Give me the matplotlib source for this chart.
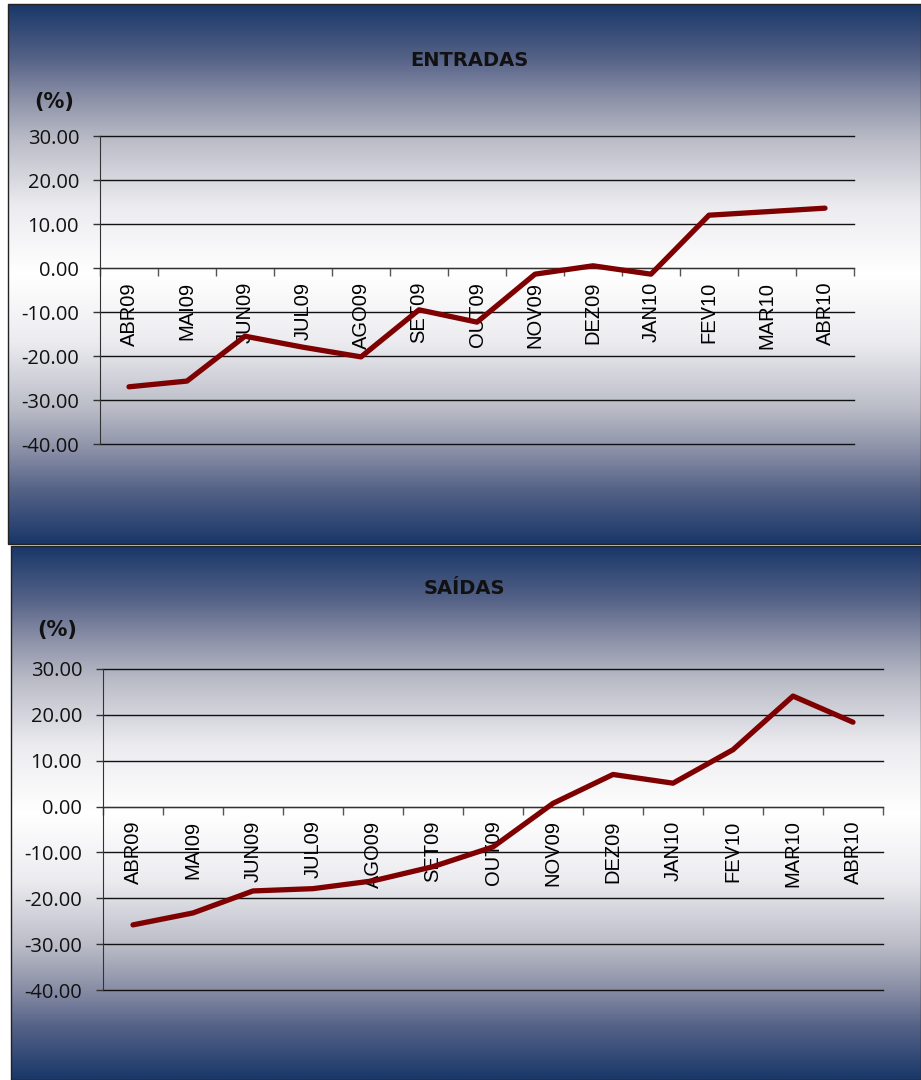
import numpy as np
import matplotlib
matplotlib.use("Agg")
import matplotlib.pyplot as plt
from matplotlib.colors import LinearSegmentedColormap
from matplotlib.patches import Rectangle

categories = ["ABR09", "MAI09", "JUN09", "JUL09", "AGO09", "SET09", "OUT09",
              "NOV09", "DEZ09", "JAN10", "FEV10", "MAR10", "ABR10"]
entradas = [-27.0, -25.7, -15.5, -18.0, -20.2, -9.5, -12.3,
            -1.4, 0.5, -1.4, 12.0, 12.8, 13.6]
saidas = [-25.8, -23.2, -18.4, -17.9, -16.2, -13.1, -8.8,
          0.7, 7.0, 5.1, 12.4, 24.1, 18.4]
yticks = [30, 20, 10, 0, -10, -20, -30, -40]
titles = ["ENTRADAS", "SAÍDAS"]

W, H = 921, 1080
fig = plt.figure(figsize=(W / 100, H / 100), dpi=100)

stops = [(0.0, (25, 55, 105)), (0.2, (85, 98, 135)), (0.35, (140, 145, 168)),
         (0.5, (185, 187, 198)), (0.75, (236, 236, 240)), (1.0, (255, 255, 255))]
cols = [(p, tuple(c / 255 for c in rgb)) for p, rgb in stops]
half = LinearSegmentedColormap.from_list("g", cols)
grad = np.concatenate([np.linspace(0, 1, 256), np.linspace(1, 0, 256)])
img = half(grad)[:, None, :]


def fx(x):
    return x / W


def fy(y):
    return 1 - y / H


def panel(x0, y0, x1, y1):
    bg = fig.add_axes([fx(x0), fy(y1), fx(x1 - x0), (y1 - y0) / H], zorder=0)
    bg.imshow(img, aspect="auto", extent=[0, 1, 0, 1], interpolation="bilinear")
    bg.set_xlim(0, 1)
    bg.set_ylim(0, 1)
    bg.axis("off")
    fig.patches.append(Rectangle((fx(x0), fy(y1)), fx(x1 - x0), (y1 - y0) / H,
                                 transform=fig.transFigure, fill=False,
                                 edgecolor="#222222", lw=1.0, zorder=5))


def chart(rect, data, title, title_xy, pct_xy):
    ax = fig.add_axes(rect, zorder=2)
    ax.patch.set_alpha(0)
    for s in ["top", "right"]:
        ax.spines[s].set_visible(False)
    ax.spines["bottom"].set_position(("data", 0))
    ax.spines["bottom"].set_color("#333333")
    ax.spines["left"].set_color("#333333")
    x = np.arange(len(categories))
    ax.plot(x, data, color="#7f0000", lw=3.8, solid_capstyle="round",
            solid_joinstyle="round", zorder=3)
    ax.set_xlim(-0.5, len(categories) - 0.5)
    ax.set_ylim(-40, 30)
    ax.set_yticks(yticks)
    ax.set_yticklabels([f"{v:.2f}" for v in yticks], fontsize=14.5,
                       family=["Open Sans", "DejaVu Sans"], color="#111111")
    for v in yticks:
        ax.axhline(v, color="#111111", lw=1.0, zorder=1, clip_on=False)
    ax.tick_params(axis="y", direction="out", length=5, width=1, pad=10,
                   color="#333333")
    ax.set_xticks(x)
    ax.set_xticklabels(categories, rotation=90, fontsize=14.5,
                       family=["Liberation Sans", "DejaVu Sans"], color="black")
    ax.set_xticks(np.arange(-0.5, len(categories)), minor=True)
    ax.tick_params(axis="x", which="major", length=0, pad=10)
    ax.tick_params(axis="x", which="minor", direction="out", length=6,
                   width=1, color="#555555")
    fig.text(fx(title_xy[0]), fy(title_xy[1]), title, ha="center", va="center",
             fontsize=14, fontweight="bold", family=["DejaVu Sans"],
             color="#111111", zorder=6)
    fig.text(fx(pct_xy[0]), fy(pct_xy[1]), "(%)", ha="center", va="center",
             fontsize=15, fontweight="bold", family=["DejaVu Sans"],
             color="#111111", zorder=6)


panel(8, 4, 921, 544)
panel(11, 546, 921, 1080)

chart([fx(100), fy(444), fx(754), 308 / H], entradas, titles[0], (469, 60), (54, 102))
chart([fx(103), fy(990), fx(780), 321 / H], saidas, titles[1], (464, 588), (57, 630))

fig.savefig("out.png", dpi=100)
